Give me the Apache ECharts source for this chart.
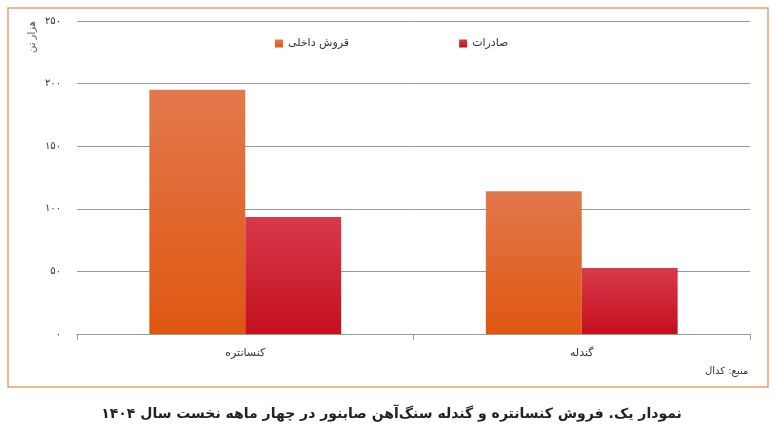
<!DOCTYPE html><html><head><meta charset="utf-8"><script src="https://cdn.jsdelivr.net/npm/echarts@6/dist/echarts.min.js"></script></head><body style="margin:0;background:#fff"><div id="c" style="width:783px;height:443px"></div><script>
const categories=['کنسانتره','گندله'];
const domestic=[195,114];
const exports_=[93.5,52.7];
const fa=n=>String(n).replace(/\d/g,d=>'۰۱۲۳۴۵۶۷۸۹'[d]);
const F='DejaVu Sans';
const c=echarts.init(document.getElementById('c'));
c.setOption({animation:false,textStyle:{fontFamily:F},
grid:{left:77,right:33,top:21,bottom:109},
legend:{top:33,left:270,itemGap:110,itemWidth:8,itemHeight:8,icon:'rect',textStyle:{fontSize:11,color:'#333'},data:['قروش داخلی','صادرات']},
xAxis:{type:'category',data:categories,axisLine:{lineStyle:{color:'#999'}},axisTick:{show:true,length:6,lineStyle:{color:'#999'}},axisLabel:{fontSize:11,color:'#333',margin:14}},
yAxis:{type:'value',min:0,max:250,interval:50,axisLabel:{formatter:v=>fa(v),fontSize:10,color:'#333',margin:16},splitLine:{lineStyle:{color:'#999'}},
name:'هزار تن',nameLocation:'end',nameRotate:90,nameGap:0,nameTextStyle:{fontSize:10,color:'#555',align:'right',verticalAlign:'bottom',padding:[0,0,40,0]}},
series:[
{name:'قروش داخلی',type:'bar',data:domestic,barGap:'0%',barCategoryGap:'43%',itemStyle:{color:new echarts.graphic.LinearGradient(0,0,0,1,[{offset:0,color:'#E2784D'},{offset:1,color:'#DF5710'}])}},
{name:'صادرات',type:'bar',data:exports_,itemStyle:{color:new echarts.graphic.LinearGradient(0,0,0,1,[{offset:0,color:'#D83A4C'},{offset:1,color:'#C50F1C'}])}}],
graphic:[
{type:'rect',shape:{x:8,y:8,width:760,height:379},style:{fill:'none',stroke:'#E8A070',lineWidth:1.5}},
{type:'text',left:705,top:366,style:{text:'منبع: کدال',font:'10px '+F,fill:'#333'}},
{type:'text',left:'center',top:407,style:{text:'نمودار یک. فروش کنسانتره و گندله سنگ‌آهن صابنور در چهار ماهه نخست سال ۱۴۰۴',font:'bold 14px '+F,fill:'#222'}}]
});
</script></body></html>
